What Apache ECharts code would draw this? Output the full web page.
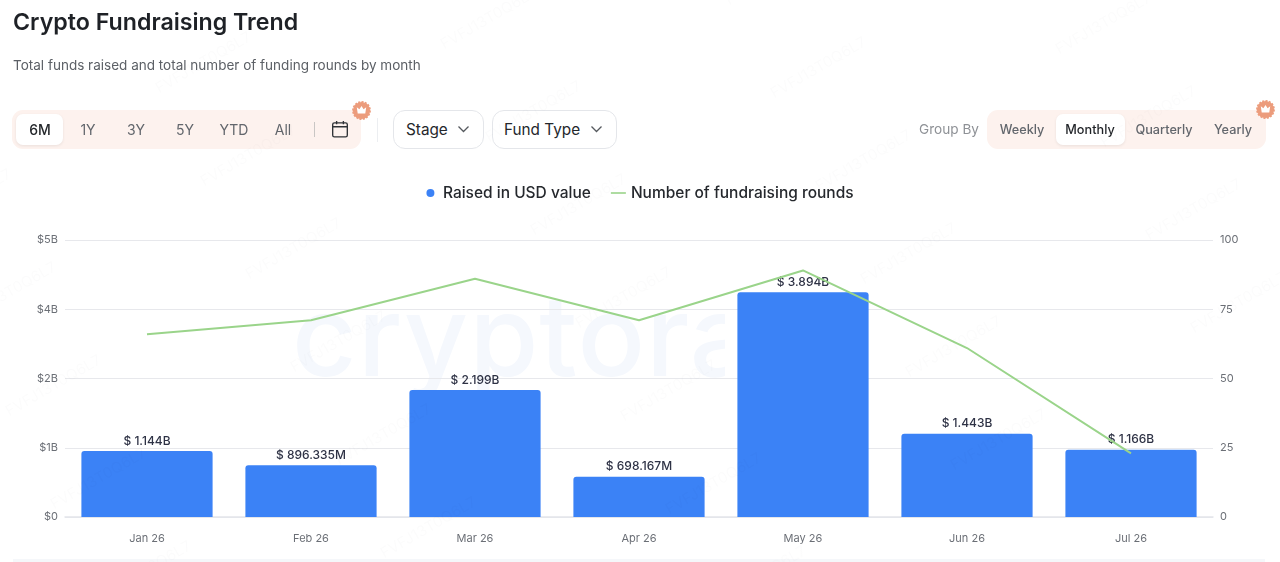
<!DOCTYPE html>
<html><head><meta charset="utf-8">
<style>
html,body{margin:0;padding:0;background:#fff;width:1280px;height:562px;overflow:hidden;font-family:Inter,sans-serif}
#wrap{position:relative;width:1280px;height:562px;overflow:hidden}
#logo{position:absolute;left:292px;top:280px;width:433px;height:110px;overflow:hidden;color:#f5f8fd;font:500 112px/110px Inter,sans-serif;letter-spacing:1px;white-space:nowrap}
#chart{position:absolute;left:0;top:0;width:1280px;height:562px}
.a{position:absolute;box-sizing:border-box}
.pill{background:#fdf2ee;border-radius:11px;top:110px;height:39px}
.on{background:#fff;border-radius:7px;top:114px;height:31px;box-shadow:0 1px 3px rgba(0,0,0,.08)}
.t{top:110px;height:39px;line-height:39px;transform:translateX(-50%);font-size:14px;color:#62666c;white-space:nowrap}
.g{font-size:12.700px;font-weight:500}
.btn{top:110px;height:39px;border:1px solid #e4e6ea;border-radius:12px;background:#fff;font-size:15.300px;line-height:37px;color:#24272b;padding-left:12px}
.wm{position:absolute;font-size:15px;color:rgba(20,30,60,.017);transform:translate(-50%,-50%) rotate(-30deg);white-space:nowrap;pointer-events:none}
</style></head><body>
<div id="wrap">
<div id="logo">cryptorank</div>
<div id="chart"></div>

<div class="a pill" style="left:12px;width:349px"></div>
<div class="a on" style="left:16px;width:47px"></div>
<div class="a t" style="left:40px;color:#24272b;font-weight:500">6M</div>
<div class="a t" style="left:88px">1Y</div>
<div class="a t" style="left:136px">3Y</div>
<div class="a t" style="left:185px">5Y</div>
<div class="a t" style="left:234px">YTD</div>
<div class="a t" style="left:283px">All</div>
<div class="a" style="left:314px;top:122px;width:1px;height:15px;background:#c9c6c4"></div>
<svg class="a" style="left:331px;top:120px" width="18" height="18" viewBox="0 0 16 16" fill="none" stroke="#2f3236" stroke-width="1.200"><rect x="1.500" y="2.500" width="13" height="12.500" rx="1.500"/><path d="M1.500 6h13M5 .8v3M11 .8v3"/></svg>
<svg class="a" style="left:351px;top:100px" width="21" height="21" viewBox="0 0 20 20"><circle cx="10" cy="10" r="8.200" fill="#ec9c7c" stroke="#ec9c7c" stroke-width="1.500" stroke-dasharray="2 1.200"/><path d="M5.500 6.800l2.500 1.900L10 5.800l2 2.900 2.500-1.900-.9 6H6.400z" fill="#fff"/></svg>
<div class="a" style="left:377px;top:118px;width:1px;height:24px;background:#eceef1"></div>
<div class="a btn" style="left:393px;width:91px">Stage</div>
<svg class="a" style="left:457px;top:125px" width="13" height="9" viewBox="0 0 13 9" fill="none" stroke="#55595e" stroke-width="1.300"><path d="M1.500 1.500L6.500 6.500L11.500 1.500"/></svg>
<div class="a btn" style="left:492px;width:125px;padding-left:11px">Fund Type</div>
<svg class="a" style="left:590px;top:125px" width="13" height="9" viewBox="0 0 13 9" fill="none" stroke="#55595e" stroke-width="1.300"><path d="M1.500 1.500L6.500 6.500L11.500 1.500"/></svg>

<div class="a t" style="left:949px;color:#8e9196;font-size:13.600px">Group By</div>
<div class="a pill" style="left:987px;width:279px"></div>
<div class="a on" style="left:1056px;width:69px"></div>
<div class="a t g" style="left:1022px">Weekly</div>
<div class="a t g" style="left:1090px;color:#1f2226">Monthly</div>
<div class="a t g" style="left:1164px">Quarterly</div>
<div class="a t g" style="left:1233px">Yearly</div>
<svg class="a" style="left:1255px;top:99px" width="21" height="21" viewBox="0 0 20 20"><circle cx="10" cy="10" r="8.200" fill="#ec9c7c" stroke="#ec9c7c" stroke-width="1.500" stroke-dasharray="2 1.200"/><path d="M5.500 6.800l2.500 1.900L10 5.800l2 2.900 2.500-1.900-.9 6H6.400z" fill="#fff"/></svg>
<div class="a" style="left:13px;top:559px;width:1252px;height:3px;background:#f5f7fa"></div>
</div>
<script src="https://cdn.jsdelivr.net/npm/echarts@6/dist/echarts.min.js"></script>
<script>
const categories = ['Jan 26','Feb 26','Mar 26','Apr 26','May 26','Jun 26','Jul 26'];
const raisedBillions = [1.144, 0.896335, 2.199, 0.698167, 3.894, 1.443, 1.166];
const rounds = [66, 71, 86, 71, 89, 61, 23];
const seriesNames = ['Raised in USD value', 'Number of fundraising rounds'];

const wrap = document.getElementById('wrap');
for (let i = -4; i < 8; i++) for (let j = -5; j < 6; j++) {
  const x = 53 + 240*i + 45*j, y = 385 - 137*i + 93*j;
  if (x < -60 || x > 1340 || y < -30 || y > 590) continue;
  const d = document.createElement('div');
  d.className = 'wm'; d.textContent = 'FVFJ13T0Q6L7';
  d.style.left = x + 'px'; d.style.top = y + 'px';
  wrap.appendChild(d);
}

const font = 'Inter';
const chart = echarts.init(document.getElementById('chart'), null, {renderer:'canvas', width:1280, height:562});
chart.setOption({
  animation:false,
  backgroundColor:'transparent',
  title:[
    {text:'Crypto Fundraising Trend', left:13, top:12, padding:0, textStyle:{fontFamily:font, fontSize:23.200, fontWeight:600, color:'#1e2126'}},
    {text:'Total funds raised and total number of funding rounds by month', left:13, top:59, padding:0, textStyle:{fontFamily:font, fontSize:13.530, fontWeight:400, color:'#5c6066'}}
  ],
  legend:{
    top:185, left:'center', itemGap:20, itemWidth:15, itemHeight:8, padding:0,
    textStyle:{fontFamily:font, fontSize:15.500, fontWeight:500, color:'#25282d'},
    data:[{name:seriesNames[0], icon:'circle'}, {name:seriesNames[1], icon:'path://M0,0H150V16H0Z'}]
  },
  grid:{left:65, right:67, top:240, bottom:45},
  xAxis:{
    type:'category', data:categories,
    axisLine:{lineStyle:{color:'#e4e5ea', width:1.500}}, axisTick:{show:false},
    axisLabel:{fontFamily:font, fontSize:11, color:'#6b6f76', margin:16}
  },
  yAxis:[
    {type:'value', min:0, max:4.8, interval:1.2,
     axisLine:{show:false}, axisTick:{show:false},
     splitLine:{lineStyle:{color:'#e7e8ec', width:1}},
     axisLabel:{fontFamily:font, fontSize:11, color:'#6b6f76', margin:7, padding:[4,0,0,0], formatter:v=>v===0?'$0':'$'+Math.round(v)+'B'}},
    {type:'value', min:0, max:100, interval:25,
     axisLine:{show:false}, axisTick:{show:false}, splitLine:{show:false},
     axisLabel:{fontFamily:font, fontSize:11, color:'#6b6f76', margin:7, padding:[4,0,0,0]}}
  ],
  series:[
    {name:seriesNames[0], type:'bar', data:raisedBillions, barWidth:'80%', yAxisIndex:0,
     itemStyle:{color:'#3b82f6', borderRadius:[3,3,0,0]},
     label:{show:true, position:'top', distance:4, fontFamily:font, fontSize:12, fontWeight:500, color:'#2e3245',
       formatter:p=>p.value>=1 ? '$ '+p.value.toFixed(3)+'B' : '$ '+(p.value*1000).toFixed(3)+'M'}},
    {name:seriesNames[1], type:'line', data:rounds, yAxisIndex:1, symbol:'none', z:5,
     lineStyle:{color:'#9ad48a', width:2}, itemStyle:{color:'#9ad48a'}}
  ]
});
</script>
</body></html>
